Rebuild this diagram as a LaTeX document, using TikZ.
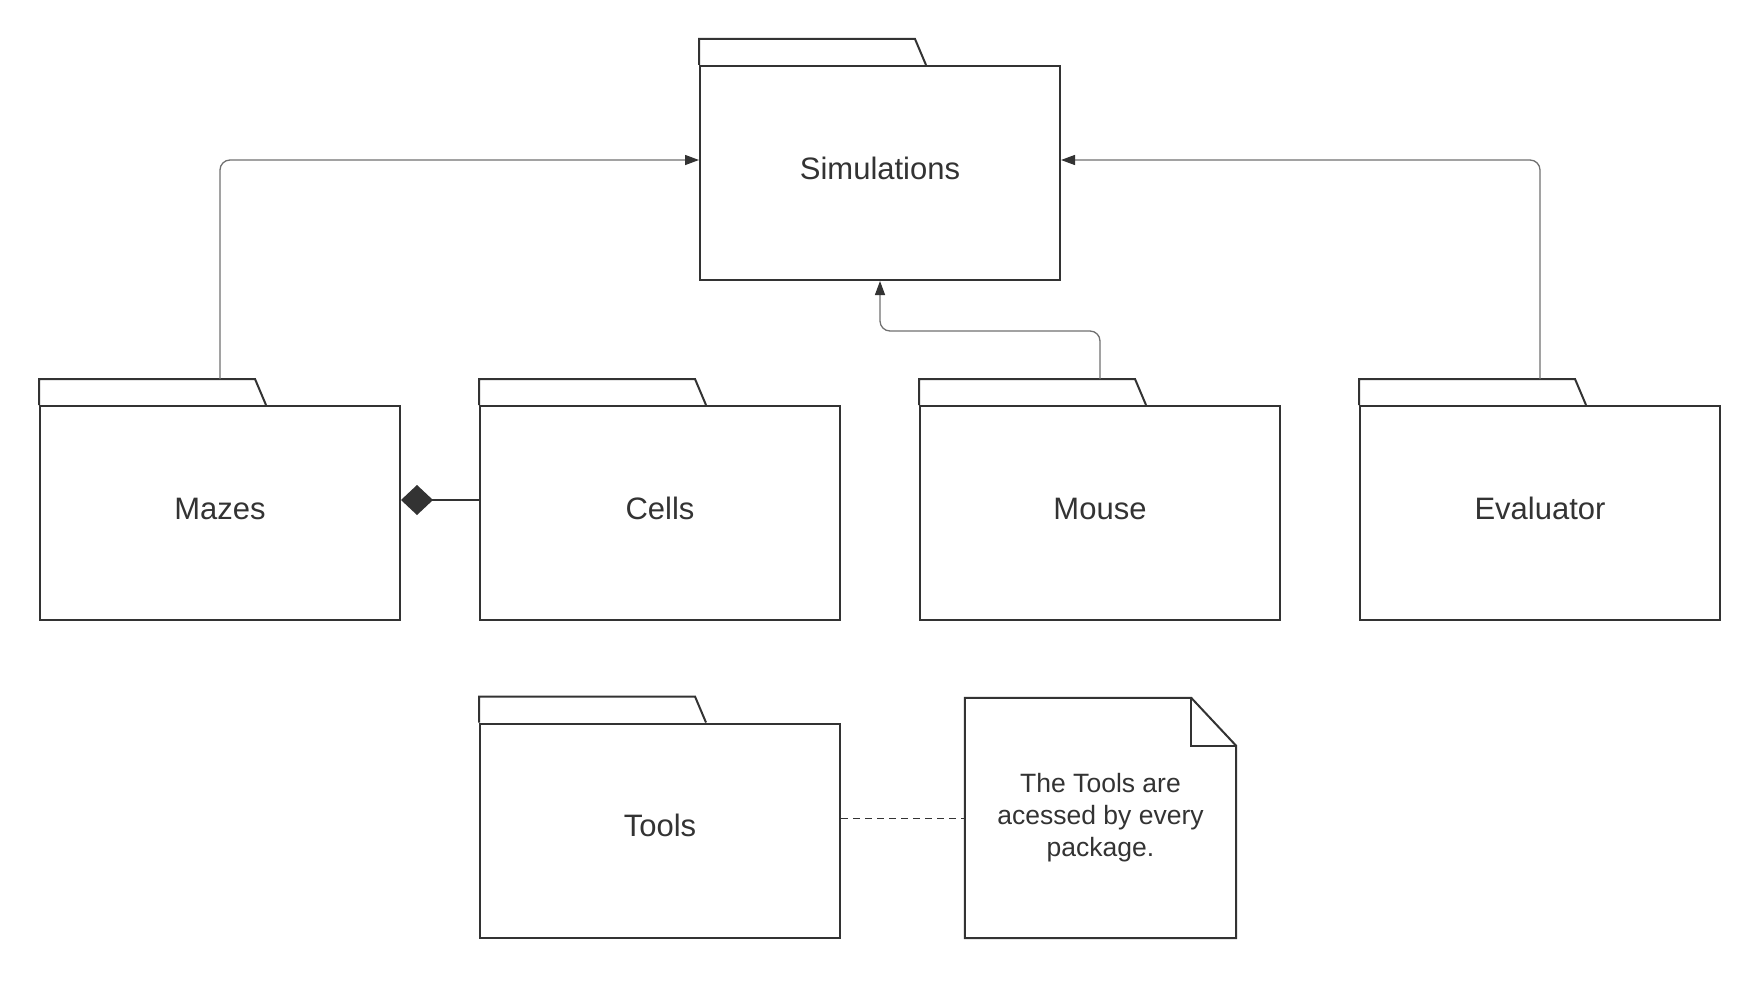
\documentclass[tikz,border=0pt]{standalone}
\usepackage{fontspec}
\setmainfont{Liberation Sans}
\usetikzlibrary{arrows.meta,calc}
\definecolor{ink}{HTML}{333333}
\definecolor{wire}{HTML}{707070}
\begin{document}
\begin{tikzpicture}[x=1pt,y=-1pt,
  pkg/.style={draw=ink,line width=2pt,rectangle,minimum width=360pt,minimum height=214pt,inner sep=0pt},
  pkglabel/.style={text=ink,font=\fontsize{31}{37}\selectfont,text height=22pt,text depth=0pt,inner sep=0pt},
  tab/.style={draw=ink,line width=2pt,line join=miter},
  conn/.style={draw=wire,line width=1.3pt,rounded corners=10pt,-{Triangle[length=14pt,width=10pt,fill=ink,color=ink]}},
  notebox/.style={rectangle,draw=none,minimum width=271pt,minimum height=240pt,inner sep=0pt,align=center,text=ink,font=\fontsize{26.5}{32}\selectfont},
]
\useasboundingbox (0,0) rectangle (1761,982);
% packages
\node[pkg] (sim) at (880,173) {};
\node[pkg] (mazes) at (220,513) {};
\node[pkg] (cells) at (660,513) {};
\node[pkg] (mouse) at (1100,513) {};
\node[pkg] (eval) at (1540,513) {};
\node[pkg] (tools) at (660,830.5) {};
\foreach \p in {sim,mazes,cells,mouse,eval,tools}{
  \draw[tab] (\p.north west) -- ++(0,-26) -- ++(216,0) -- ++(11,26);
}
% labels
\node[pkglabel] (simL) at ([yshift=5pt]sim.center) {Simulations};
\node[pkglabel] (mazesL) at ([yshift=5pt]mazes.center) {Mazes};
\node[pkglabel] (cellsL) at ([yshift=5pt]cells.center) {Cells};
\node[pkglabel] (mouseL) at ([yshift=5pt]mouse.center) {Mouse};
\node[pkglabel] (evalL) at ([yshift=5pt]eval.center) {Evaluator};
\node[pkglabel] (toolsL) at ([yshift=5pt]tools.center) {Tools};
% note
\node[notebox] (note) at (1100.5,818) {The Tools are\\acessed by every\\package.};
\draw[ink,line width=2pt,line join=miter] (note.north west) -- ([xshift=-45pt]note.north east) -- ([yshift=-48pt]note.north east) -- (note.south east) -- (note.south west) -- cycle;
\draw[ink,line width=2pt,line join=miter] ([xshift=-45pt]note.north east) |- ([yshift=-48pt]note.north east);
% tab tops
\coordinate (mazesTop) at ([yshift=26pt]mazes.north);
\coordinate (mouseTop) at ([yshift=26pt]mouse.north);
\coordinate (evalTop) at ([yshift=26pt]eval.north);
% connectors
\draw[conn] (mazesTop) |- ([yshift=13pt]sim.west);
\draw[conn] (evalTop) |- ([yshift=13pt]sim.east);
\draw[conn] (mouseTop) |- ([yshift=-50pt]sim.south) -- (sim.south);
\draw[draw=ink,line width=1.3pt,-{Diamond[length=32pt,width=30pt,fill=ink,color=ink]}] ([yshift=13pt]cells.west) -- ([yshift=13pt]mazes.east);
\draw[draw=ink,line width=1pt,dash pattern=on 7pt off 5pt] (tools.east |- note.west) -- (note.west);
\end{tikzpicture}
\end{document}
